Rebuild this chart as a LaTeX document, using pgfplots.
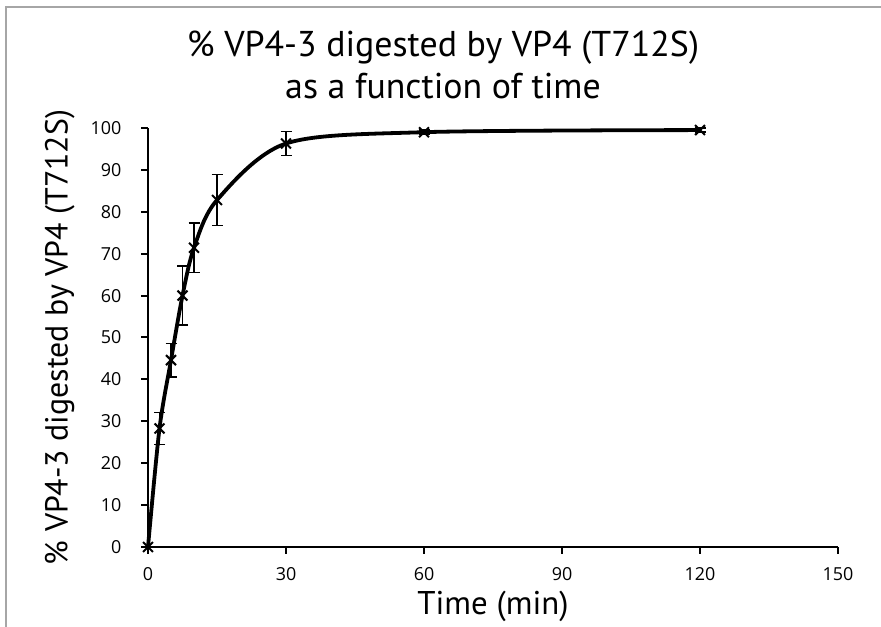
\documentclass[border=0pt]{standalone}
\usepackage{fontspec}
\setmainfont{PT Sans}
\newfontfamily\tickfont{Open Sans}
\usepackage{pgfplots}
\pgfplotsset{compat=1.18}
\begin{document}
\begin{tikzpicture}[x=1bp,y=1bp]
\useasboundingbox (0,0) rectangle (881,627);
\draw[gray!70, line width=2bp] (6,0) -- (6,620) -- (881,620);
\node[align=center, font=\fontsize{36}{43}\selectfont] at (443,562) {\% VP4-3 digested by VP4 (T712S)\\as a function of time};
\begin{axis}[
  at={(148bp,80bp)}, anchor=south west,
  scale only axis, width=690bp, height=419bp,
  xmin=0, xmax=150, ymin=0, ymax=100,
  axis x line=bottom, axis y line=left,
  axis line style={line width=2.5bp, -},
  xtick={0,30,...,150}, ytick={0,10,...,100},
  tick style={line width=2bp, black},
  major tick length=7bp,
  xtick align=outside, ytick align=outside,
  tick label style={font=\tickfont\fontsize{18}{20}\selectfont},
  /pgf/number format/assume math mode=true,
  xlabel={Time (min)},
  ylabel={\% VP4-3 digested by VP4 (T712S)},
  xlabel style={font=\fontsize{33}{36}\selectfont, at={(axis description cs:0.5,-0.142)}, anchor=center},
  ylabel style={font=\fontsize{32}{36}\selectfont, at={(axis description cs:-0.128,0.5)}, anchor=center},
  yticklabel style={xshift=-16bp},
  xticklabel style={yshift=-10bp},
  clip=false,
]
\addplot[black, line width=3.8bp, smooth, tension=0.5,
  mark=x, mark size=7bp, mark options={line width=2bp, solid},
  error bars/.cd, y dir=both, y explicit,
  error bar style={line width=1.6bp, black},
  error mark options={rotate=90, mark size=5.5bp, line width=1.6bp, black}]
  coordinates {
  (0,0) +- (0,0)
  (2.5,28.3) +- (0,3.8)
  (5,44.6) +- (0,4.0)
  (7.5,60) +- (0,7.0)
  (10,71.4) +- (0,5.9)
  (15,82.8) +- (0,6.1)
  (30,96.3) +- (0,2.9)
  (60,99) +- (0,0.5)
  (120,99.5) +- (0,0.5)
  };
\end{axis}
\end{tikzpicture}
\end{document}
